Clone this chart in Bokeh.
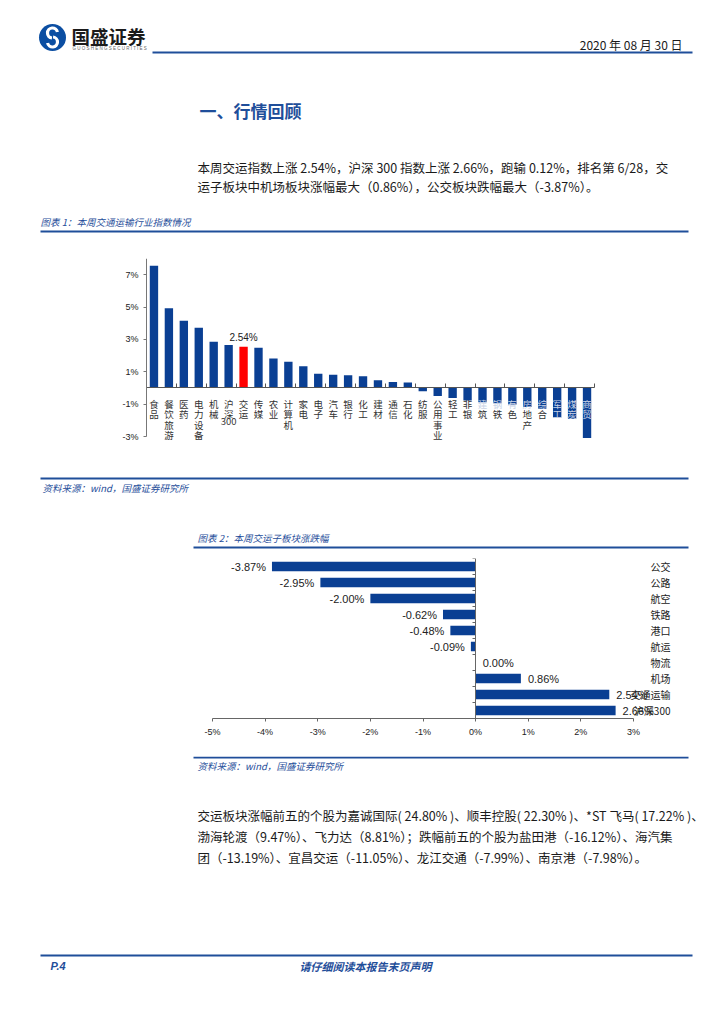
from bokeh.plotting import figure
from bokeh.layouts import column
from bokeh.models import (Range1d, LinearAxis, FixedTicker, PrintfTickFormatter,
                          CustomLabelingPolicy)
from bokeh.embed import file_html
from bokeh.resources import INLINE
from bokeh.core.properties import value

# ---------------- data ----------------
industries = ["食品", "餐饮旅游", "医药", "电力设备", "机械", "沪深300", "交运", "传媒", "农业",
              "计算机", "家电", "电子", "汽车", "银行", "化工", "建材", "通信", "石化", "纺服",
              "公用事业", "轻工", "非银", "建筑", "钢铁", "有色", "房地产", "综合", "军工", "煤炭", "商贸"]
industry_chg = [7.55, 4.92, 4.15, 3.72, 2.86, 2.66, 2.54, 2.48, 1.82,
                1.62, 1.34, 0.88, 0.82, 0.78, 0.72, 0.47, 0.37, 0.33, -0.20,
                -0.50, -0.62, -0.78, -0.88, -0.94, -1.02, -1.18, -1.28, -1.82, -1.90, -3.10]
highlight = "交运"

sub_sectors = ["公交", "公路", "航空", "铁路", "港口", "航运", "物流", "机场", "交通运输", "沪深300"]
sub_chg = [-3.87, -2.95, -2.00, -0.62, -0.48, -0.09, 0.00, 0.86, 2.54, 2.66]
x_ticks_pct = [-5, -4, -3, -2, -1, 0, 1, 2, 3]
y_ticks_pct = [-3, -1, 1, 3, 5, 7]

# ---------------- styles ----------------
BLUE = "#0A3F93"
NAVY = "#1F4E9A"
RED = "#FF0000"
CJK = "Noto Sans CJK SC"
LAT = "Liberation Sans"
W = 708
L, R = 34, 2            # common side borders (frames are aligned in a column)
FL, FR = L, W - R       # frame left / right in page pixels
NO_LABELS = CustomLabelingPolicy(code="for (const i of indices) indices.unset(i)\nreturn indices")


def page_fig(top, bottom):
    p = figure(width=W, height=bottom - top, x_range=Range1d(FL, FR), y_range=Range1d(bottom, top),
               x_axis_type=None, y_axis_type=None, output_backend="svg", toolbar_location=None,
               min_border_left=L, min_border_right=R, min_border_top=0, min_border_bottom=0)
    p.grid.visible = False
    p.outline_line_color = None
    return p


def txt(p, x, y, s, size, color="#1a1a1a", font=CJK, align="left", style="normal"):
    p.text(x=[x], y=[y], text=[s], text_font=value(font), text_font_size=f"{size}px",
           text_color=color, text_align=align, text_baseline="middle", text_font_style=style)


# ---------------- Section A: header, heading, paragraph, caption 1 ----------------
A = page_fig(0, 250)
A.circle(x=[52], y=[37], radius=13.5, fill_color="#0B4EA2", line_color=None)
A.arc(x=[52], y=[32.5], radius=5, start_angle=0.2, end_angle=4.6, line_color="white", line_width=3.2)
A.arc(x=[52], y=[41.5], radius=5, start_angle=3.34, end_angle=7.74, line_color="white", line_width=3.2)
txt(A, 71, 35, "国盛证券", 18.5, color="#1b1b1b", style="bold")
txt(A, 72, 48, "G U O S H E N G   S E C U R I T I E S", 4.5, color="#666666", font=LAT)
txt(A, 682, 44, "2020 年 08 月 30 日", 12, color="#1a1a1a", align="right")
A.segment(x0=[152], y0=[52], x1=[692], y1=[52], line_color=NAVY, line_width=2)
txt(A, 199, 110, "一、行情回顾", 17, color=NAVY, style="bold")
txt(A, 197, 167, "本周交运指数上涨 2.54%，沪深 300 指数上涨 2.66%，跑输 0.12%，排名第 6/28，交", 12.5)
txt(A, 197, 186, "运子板块中机场板块涨幅最大（0.86%），公交板块跌幅最大（-3.87%）。", 12.5)
txt(A, 40, 221, "图表 1：本周交通运输行业指数情况", 9.5, color=NAVY, style="italic")
A.segment(x0=[40], y0=[231], x1=[688], y1=[231], line_color=NAVY, line_width=2)

# ---------------- Section B: chart 1 ----------------
px_per_pct = (436 - 258) / 11.0
B_top, B_bot = 8, 15
frame_h = 226 - B_top - B_bot
y_start = 8 - frame_h / px_per_pct
nb = len(industries)
px_per_bar = (594 - 146) / nb
xb_start = -0.5 - (146 - FL) / px_per_bar
xb_end = nb - 0.5 + (FR - 594) / px_per_bar
B = figure(width=W, height=226, x_range=Range1d(xb_start, xb_end),
           y_range=Range1d(y_start, 8), x_axis_type=None, y_axis_type=None,
           output_backend="svg", toolbar_location=None,
           min_border_left=L, min_border_right=R, min_border_top=B_top, min_border_bottom=B_bot)
B.grid.visible = False
B.outline_line_color = None
idx = list(range(nb))
colors = [RED if c == highlight else BLUE for c in industries]
B.vbar(x=idx, top=industry_chg, bottom=0, width=0.56, fill_color=colors, line_color=None)

yax = LinearAxis(ticker=FixedTicker(ticks=y_ticks_pct), formatter=PrintfTickFormatter(format="%d%%"),
                 bounds=(-3, 8), fixed_location=-0.5,
                 axis_line_color="#777777", major_tick_line_color="#777777",
                 major_tick_out=3, major_tick_in=0, minor_tick_line_color=None,
                 major_label_text_font=LAT, major_label_text_font_size="9px",
                 major_label_text_color="#222222", major_label_standoff=5)
B.add_layout(yax, "left")
xax = LinearAxis(ticker=FixedTicker(ticks=[-0.5 + 2 * k for k in range(16)]), fixed_location=0,
                 bounds=(-0.5, nb - 0.5), major_label_policy=NO_LABELS,
                 axis_line_color="#555555", major_tick_line_color="#555555",
                 major_tick_out=0, major_tick_in=4, minor_tick_line_color=None)
B.add_layout(xax, "below")

# vertical (one character per line) category labels; characters lying over a
# negative bar are drawn light, as in the reference
CH_PITCH = 10.3
lab_x, lab_t, lab_off, lab_col = [], [], [], []
for i, (name, v) in enumerate(zip(industries, industry_chg)):
    parts = list(name[:-3]) + ["300"] if name.endswith("300") else list(name)
    bar_px = -v * px_per_pct if v < 0 else 0
    for k, ch in enumerate(parts):
        off = 9 + k * CH_PITCH
        lab_x.append(i)
        lab_t.append(ch)
        lab_off.append(off)
        lab_col.append("#C9D3E6" if off + 5 < bar_px else "#333333")
B.text(x=lab_x, y=[0] * len(lab_x), text=lab_t, y_offset=lab_off,
       text_font=value(CJK), text_font_size="9.5px", text_color=lab_col,
       text_align="center", text_baseline="top")
hi = industries.index(highlight)
B.text(x=[hi], y=[industry_chg[hi]], text=[f"{industry_chg[hi]:.2f}%"], y_offset=-4,
       text_font=value(LAT), text_font_size="10px", text_color="#222222",
       text_align="center", text_baseline="bottom")

# ---------------- Section C: source 1, caption 2 ----------------
C = page_fig(476, 549)
C.segment(x0=[40], y0=[478], x1=[688], y1=[478], line_color=NAVY, line_width=2)
txt(C, 42, 487, "资料来源：wind，国盛证券研究所", 9.5, color=NAVY, style="italic")
txt(C, 197, 537, "图表 2：本周交运子板块涨跌幅", 9.5, color=NAVY, style="italic")
C.segment(x0=[193], y0=[547], x1=[688], y1=[547], line_color=NAVY, line_width=2)

# ---------------- Section D: chart 2 ----------------
px2 = (633 - 212) / 8.0
xd_start = -5 - (212 - FL) / px2
xd_end = 3 + (FR - 633) / px2
n = len(sub_sectors)
D = figure(width=W, height=207, x_range=Range1d(xd_start, xd_end), y_range=Range1d(-0.5, n - 0.5),
           x_axis_type=None, y_axis_type=None, output_backend="svg", toolbar_location=None,
           min_border_left=L, min_border_right=R, min_border_top=9, min_border_bottom=38)
D.grid.visible = False
D.outline_line_color = None
ypos = [n - 1 - i for i in range(n)]
D.hbar(y=ypos, left=0, right=sub_chg, height=0.58, fill_color=BLUE, line_color=None)

xax2 = LinearAxis(ticker=FixedTicker(ticks=x_ticks_pct), formatter=PrintfTickFormatter(format="%d%%"),
                  bounds=(-5, 3), axis_line_color="#666666", major_tick_line_color="#666666",
                  major_tick_out=3, major_tick_in=0, minor_tick_line_color=None,
                  major_label_text_font=LAT, major_label_text_font_size="9px",
                  major_label_text_color="#222222", major_label_standoff=5)
D.add_layout(xax2, "below")
yax2 = LinearAxis(ticker=FixedTicker(ticks=[-0.5 + k for k in range(n + 1)]), fixed_location=0,
                  major_label_policy=NO_LABELS,
                  axis_line_color="#666666", major_tick_line_color="#666666",
                  major_tick_out=3, major_tick_in=0, minor_tick_line_color=None)
D.add_layout(yax2, "left")

neg_y = [y for y, v in zip(ypos, sub_chg) if v < 0]
neg_v = [v for v in sub_chg if v < 0]
pos_y = [y for y, v in zip(ypos, sub_chg) if v >= 0]
pos_v = [v for v in sub_chg if v >= 0]
D.text(x=neg_v, y=neg_y, text=[f"{v:.2f}%" for v in neg_v], x_offset=-6,
       text_font=value(LAT), text_font_size="11px", text_color="#222222",
       text_align="right", text_baseline="middle")
D.text(x=pos_v, y=pos_y, text=[f"{v:.2f}%" for v in pos_v], x_offset=7,
       text_font=value(LAT), text_font_size="11px", text_color="#222222",
       text_align="left", text_baseline="middle")
D.text(x=[3] * n, y=ypos, text=sub_sectors, x_offset=37,
       text_font=value(CJK), text_font_size="10px", text_color="#222222",
       text_align="right", text_baseline="middle")

# ---------------- Section E: source 2, paragraph, footer ----------------
E = page_fig(756, 1008)
E.segment(x0=[193], y0=[757], x1=[688], y1=[757], line_color=NAVY, line_width=2)
txt(E, 197, 765, "资料来源：wind，国盛证券研究所", 9.5, color=NAVY, style="italic")
txt(E, 197, 815, "交运板块涨幅前五的个股为嘉诚国际( 24.80% )、顺丰控股( 22.30% )、*ST 飞马( 17.22% )、", 12.5)
txt(E, 197, 836, "渤海轮渡（9.47%）、飞力达（8.81%）；跌幅前五的个股为盐田港（-16.12%）、海汽集", 12.5)
txt(E, 197, 857, "团（-13.19%）、宜昌交运（-11.05%）、龙江交通（-7.99%）、南京港（-7.98%）。", 12.5)
E.segment(x0=[40], y0=[955], x1=[692], y1=[955], line_color=NAVY, line_width=2)
txt(E, 50, 965, "P.4", 11, color=NAVY, font=LAT, style="bold italic")
txt(E, 365, 965, "请仔细阅读本报告末页声明", 11, color=NAVY, align="center", style="bold italic")

page = column(A, B, C, D, E, spacing=0)
open("out.html", "w").write(file_html(page, INLINE))
